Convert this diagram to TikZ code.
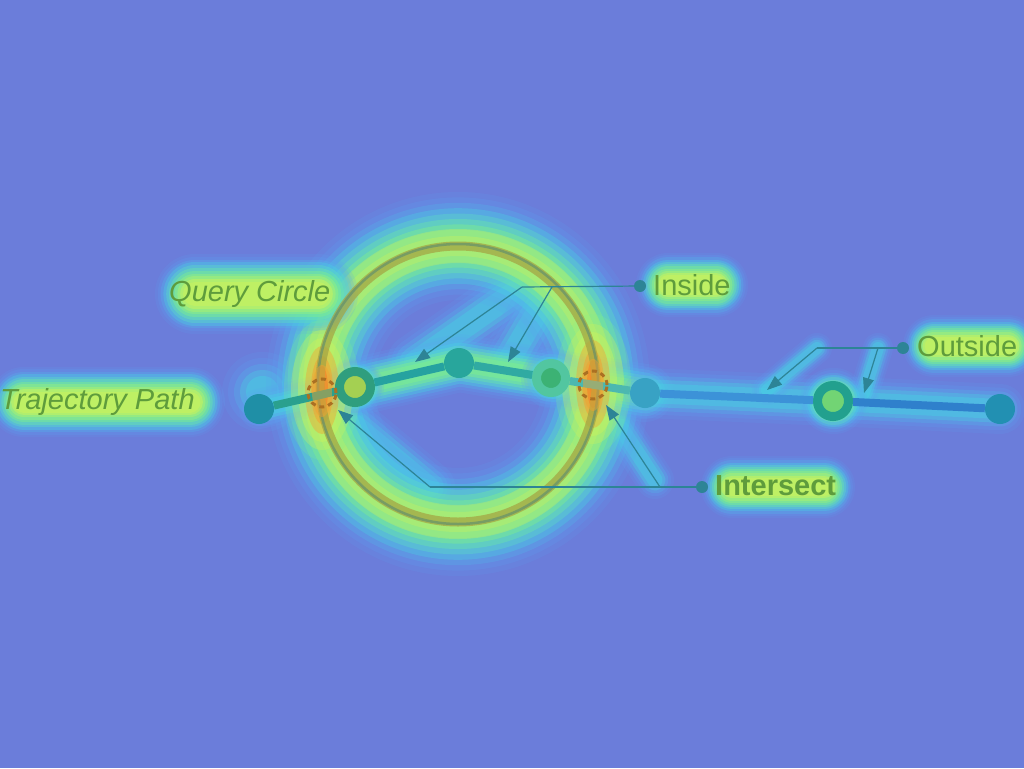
\documentclass[tikz,border=0pt]{standalone}
\usepackage{fontspec}
\setmainfont{Liberation Sans}
\usetikzlibrary{arrows.meta}
\definecolor{bg}{HTML}{6B7DDA}
\definecolor{hlb}{HTML}{5CA2F2}
\definecolor{hcy}{HTML}{45D8E2}
\definecolor{hgr}{HTML}{80F08A}
\definecolor{hye}{HTML}{CCF25C}
\definecolor{hor}{HTML}{F4A030}
\definecolor{hre}{HTML}{F26422}
\definecolor{txt}{HTML}{5E9C3C}
\definecolor{leadc}{HTML}{2D8496}
\definecolor{tealA}{HTML}{1F8FA6}
\definecolor{ringc}{HTML}{A4A644}
\definecolor{ringl}{HTML}{5A8A70}
\definecolor{ptwoO}{HTML}{2F9E7E}
\definecolor{ptwoI}{HTML}{A4D052}
\definecolor{pthree}{HTML}{28A69C}
\definecolor{pfourO}{HTML}{52C6A0}
\definecolor{pfourI}{HTML}{3CB274}
\definecolor{pfive}{HTML}{38A2C4}
\definecolor{psixO}{HTML}{22A08E}
\definecolor{psixI}{HTML}{72D474}
\definecolor{pseven}{HTML}{2290B2}
\definecolor{sA}{HTML}{2AA08E}
\definecolor{sB}{HTML}{26A2A0}
\definecolor{sC}{HTML}{30AAA2}
\definecolor{sD}{HTML}{4CB8B0}
\definecolor{sE}{HTML}{3C92D8}
\definecolor{sF}{HTML}{2F80CC}
% full heat glow: light blue -> cyan -> green -> yellow
\newcommand{\hglow}[2]{%
  \foreach \gw/\gc/\go in {1.00/hlb/0.16,0.93/hlb/0.2,0.86/hlb!50!hcy/0.26,0.79/hcy/0.3,0.72/hcy!60!hgr/0.34,0.65/hcy!30!hgr/0.38,0.58/hgr/0.42,0.51/hgr!70!hye/0.45,0.44/hgr!40!hye/0.48,0.37/hye/0.5,0.30/hye/0.5}{%
    \draw[line width=\gw*#2, draw=\gc, opacity=\go, line cap=round, line join=round] #1;}}
% medium glow: light blue -> cyan -> green
\newcommand{\mglow}[2]{%
  \foreach \gw/\gc/\go in {1.00/hlb/0.16,0.9/hlb/0.2,0.8/hlb!50!hcy/0.26,0.7/hcy/0.3,0.6/hcy!60!hgr/0.34,0.5/hcy!30!hgr/0.38,0.4/hgr/0.42,0.3/hgr/0.45}{%
    \draw[line width=\gw*#2, draw=\gc, opacity=\go, line cap=round, line join=round] #1;}}
% soft glow: light blue -> cyan
\newcommand{\sglow}[2]{%
  \foreach \gw/\gc/\go in {1.0/hlb/0.16,0.85/hlb/0.2,0.7/hlb!50!hcy/0.26,0.55/hcy/0.3,0.4/hcy/0.34}{%
    \draw[line width=\gw*#2, draw=\gc, opacity=\go, line cap=round, line join=round] #1;}}
% hot spot
\newcommand{\hotspot}[1]{%
  \foreach \rx/\ry/\gc/\go in {38/70/hgr/0.2,31/60/hye/0.32,24/52/hye/0.4,17/44/hor/0.4,11/34/hor/0.5,6/24/hre/0.55,3/14/hre/0.5}{%
    \fill[\gc, opacity=\go] #1 ellipse [x radius=\rx pt, y radius=\ry pt];}}
\tikzset{
  lbl/.style={anchor=west, inner sep=0pt, text=txt, font=\fontsize{29}{32}\selectfont},
  ldot/.style={circle, fill=leadc, inner sep=0pt, minimum size=12pt},
  lead/.style={draw=leadc, line width=1.2pt},
  leadarr/.style={lead, -{Triangle[length=15pt,width=11pt]}},
  pt/.style={circle, inner sep=0pt, minimum size=30pt, fill=tealA},
  ringnode/.style={circle, inner sep=0pt, minimum size=30pt, line width=9pt},
  seg/.style={line width=8pt},
  inter/.style={draw=hor!70!black, line width=3pt, dash pattern=on 5pt off 4pt},
}
\begin{document}
\begin{tikzpicture}[x=1pt,y=-1pt]
\fill[bg] (0,0) rectangle (1024,768);
\useasboundingbox (0,0) rectangle (1024,768);
% ---- glows
\sglow{(262,392) -- (263,392)}{80}
\sglow{(522,287) -- (415,362)}{56}
\sglow{(552,287) -- (508,362)}{56}
\sglow{(430,487) -- (338,410)}{50}
\sglow{(655,480) -- (606,405)}{38}
\mglow{(458,384) circle[radius=138pt]}{108}
\draw[hye, opacity=0.35, line width=34pt] (458,384) circle[radius=138pt];
\draw[hye, opacity=0.35, line width=20pt] (458,384) circle[radius=138pt];
\hglow{(195,294) -- (318,294)}{80}
\hglow{(24,402) -- (190,402)}{70}
\hglow{(668,285) -- (716,285)}{64}
\hglow{(934,346) -- (1008,346)}{62}
\hglow{(732,487) -- (824,487)}{62}
\sglow{(259,409) -- (355,387)}{40}
\mglow{(355,387) -- (459,363) -- (551,378) -- (645,393)}{58}
\sglow{(645,393) -- (833,401) -- (1000,409)}{50}
\sglow{(817,348) -- (767,390)}{30}
\sglow{(878,348) -- (864,393)}{30}
\hglow{(833,401) -- (834,401)}{66}
\mglow{(551,378) -- (552,378)}{60}
\hglow{(355,387) -- (356,387)}{56}
% ---- hotspots
\hotspot{(322,390)}
\hotspot{(593,384)}
% ---- query circle
\node[circle, minimum size=276pt, inner sep=0pt] (qc) at (458,384) {};
\draw[ringc, line width=9pt, opacity=0.75] (qc.center) circle[radius=138pt];
\draw[ringl, line width=2.5pt, opacity=0.6] (qc.center) circle[radius=140pt];
% ---- trajectory nodes
\node[pt] (p1) at (259,409) {};
\node[ringnode, draw=ptwoO, fill=ptwoI, minimum size=31pt] (p2) at (355,387) {};
\node[pt, fill=pthree] (p3) at (459,363) {};
\node[ringnode, draw=pfourO, fill=pfourI, minimum size=29pt] (p4) at (551,378) {};
\node[pt, fill=pfive] (p5) at (645,393) {};
\node[ringnode, draw=psixO, fill=psixI, minimum size=31pt] (p6) at (833,401) {};
\node[pt, fill=pseven] (p7) at (1000,409) {};
\draw[seg, draw=sA] (p1) -- (p2);
\draw[seg, draw=sB] (p2) -- (p3);
\draw[seg, draw=sC] (p3) -- (p4);
\draw[seg, draw=sD] (p4) -- (p5);
\draw[seg, draw=sE] (p5) -- (p6);
\draw[seg, draw=sF] (p6) -- (p7);
% ---- orange tint on crossing segments
\fill[hor, opacity=0.45] (322,391) ellipse [x radius=10pt, y radius=26pt];
\fill[hor, opacity=0.45] (593,385) ellipse [x radius=10pt, y radius=26pt];
% ---- intersections
\node[circle, inner sep=0pt, minimum size=28pt] (i1) at (322,393) {};
\node[circle, inner sep=0pt, minimum size=28pt] (i2) at (593,385) {};
\draw[inter] (i1.center) circle[radius=14pt];
\draw[inter] (i2.center) circle[radius=14pt];
% ---- labels
\node[lbl, font=\fontsize{29}{32}\selectfont\itshape] (tq) at (169,294) {Query Circle};
\node[lbl, font=\fontsize{29}{32}\selectfont\itshape] (tt) at (0,402) {Trajectory Path};
\node[ldot] (dIn) at (640,286) {};
\node[lbl] (tIn) at (653,285) {Inside};
\node[ldot] (dOut) at (903,348) {};
\node[lbl] (tOut) at (917,346) {Outside};
\node[ldot] (dInt) at (702,487) {};
\node[lbl, font=\fontsize{29}{32}\selectfont\bfseries] (tInt) at (715,486) {Intersect};
% ---- leader lines
\coordinate (kIn1) at (522,287);
\coordinate (kIn2) at (552,287);
\coordinate (aIn1) at (415,362);
\coordinate (aIn2) at (508,362);
\draw[lead] (dIn) -- (kIn1);
\draw[leadarr] (kIn1) -- (aIn1);
\draw[leadarr] (kIn2) -- (aIn2);
\coordinate (kOut1) at (817,348);
\coordinate (kOut2) at (878,348);
\coordinate (aOut1) at (767,390);
\coordinate (aOut2) at (864,393);
\draw[lead] (dOut) -- (kOut1);
\draw[leadarr] (kOut1) -- (aOut1);
\draw[leadarr] (kOut2) -- (aOut2);
\coordinate (kInt1) at (430,487);
\coordinate (kInt2) at (660,487);
\coordinate (aInt1) at (338,410);
\coordinate (aInt2) at (606,405);
\draw[lead] (dInt) -- (kInt1);
\draw[leadarr] (kInt1) -- (aInt1);
\draw[leadarr] (kInt2) -- (aInt2);
\end{tikzpicture}
\end{document}
